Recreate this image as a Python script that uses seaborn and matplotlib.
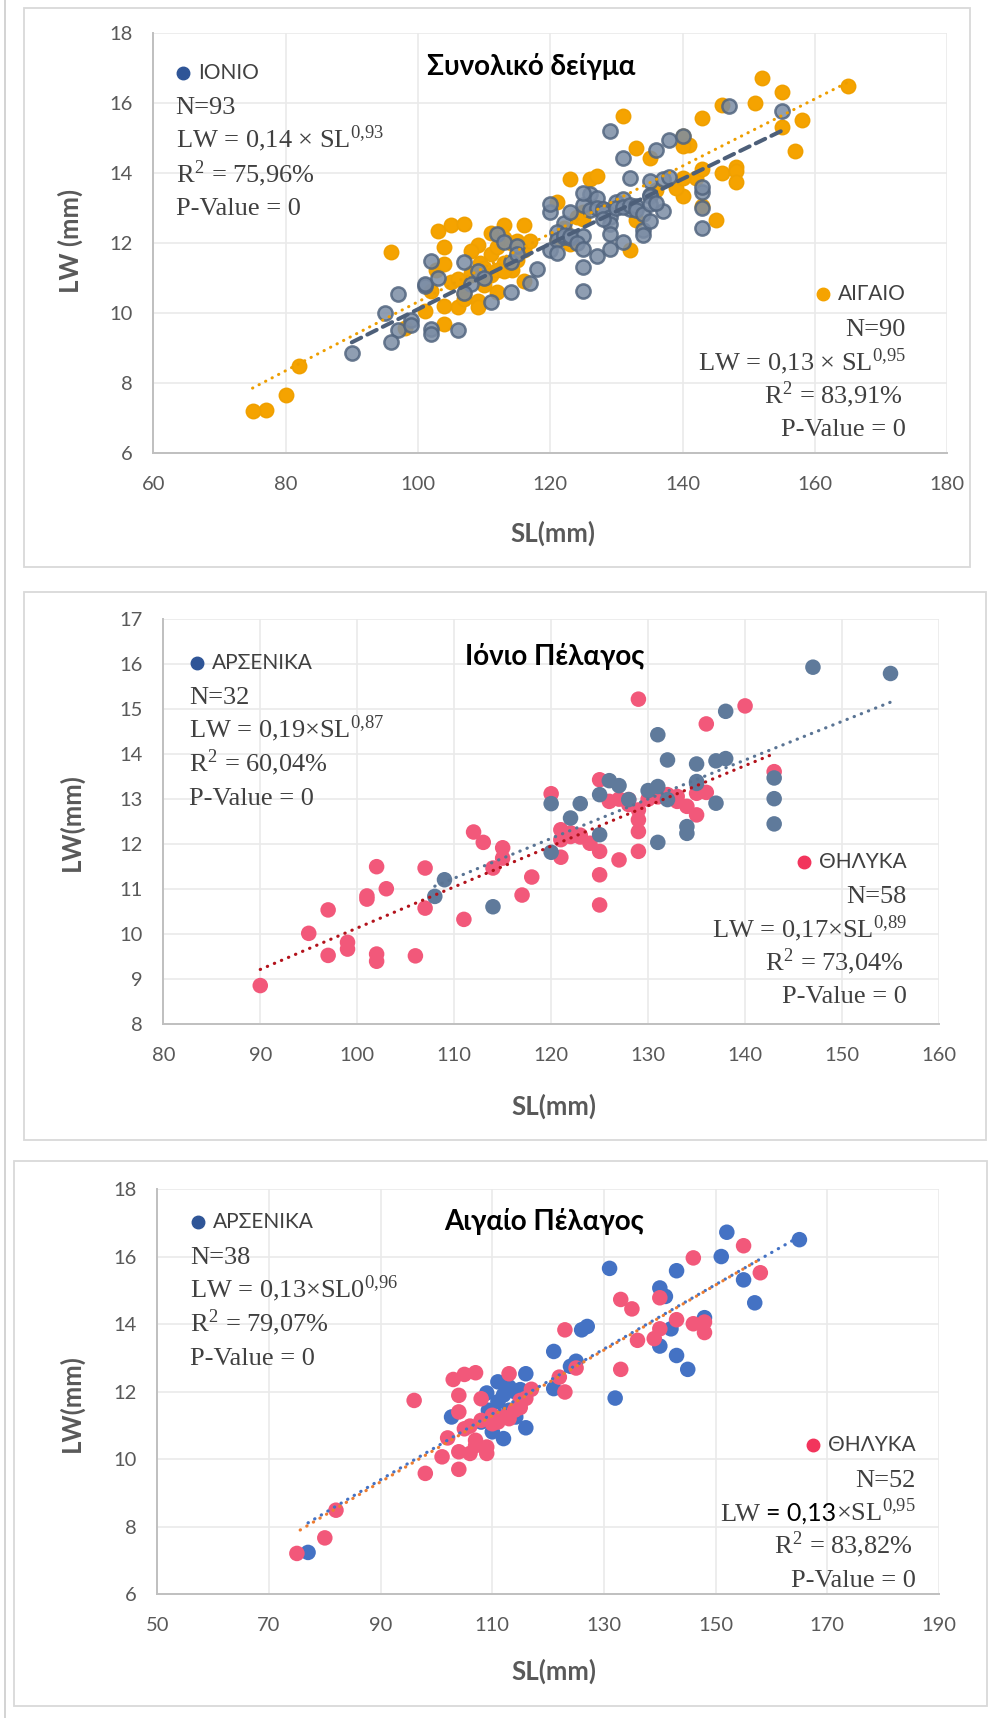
import numpy as np
import matplotlib
matplotlib.use("Agg")
import matplotlib.pyplot as plt
import seaborn as sns
from matplotlib.lines import Line2D
from matplotlib.patches import Rectangle

# ---------------- data ----------------
# Ionian Sea, males
ion_m_sl = [108, 109, 114, 120, 120, 122, 123, 125, 125, 126, 127, 128, 130, 131, 131, 131,
            132, 132, 134, 134, 135, 135, 135, 137, 137, 138, 138, 143, 143, 143, 147, 155]
ion_m_lw = [10.84, 11.21, 10.61, 12.90, 11.82, 12.58, 12.90, 13.10, 12.21, 13.41, 13.30, 12.99,
            13.19, 13.28, 14.43, 12.04, 13.87, 12.99, 12.39, 12.24, 13.78, 13.39, 13.35, 13.85,
            12.91, 13.90, 14.95, 13.47, 13.01, 12.45, 15.93, 15.79]
# Ionian Sea, females
ion_f_sl = [90, 95, 97, 97, 99, 99, 101, 101, 102, 102, 102, 103, 106, 107, 107, 111, 112, 113,
            114, 115, 115, 117, 118,
            120, 121, 121, 121, 122, 122, 123, 123, 124, 125, 125, 125, 125, 126, 127, 127, 128,
            128, 129, 129, 129, 129, 129, 130, 131, 132, 133, 133, 134, 135, 135, 136, 136, 140, 143]
ion_f_lw = [8.86, 10.02, 10.54, 9.53, 9.82, 9.67, 10.78, 10.85, 11.50, 9.56, 9.40, 11.01, 9.52,
            11.47, 10.58, 10.33, 12.27, 12.04, 11.47, 11.92, 11.69, 10.87, 11.27,
            13.12, 12.32, 12.10, 11.71, 12.17, 12.25, 12.16, 12.20, 12.02, 11.84, 13.43, 11.32,
            10.65, 12.95, 13.00, 11.65, 12.99, 12.88, 15.22, 12.76, 12.54, 12.28, 11.84, 13.00,
            13.05, 13.10, 13.06, 12.95, 12.84, 12.65, 13.13, 13.15, 14.67, 15.07, 13.61]
# Ionian Sea, specimens only in the total sample
ion_x_sl = [96, 110, 128]
ion_x_lw = [9.17, 11.00, 12.70]

# Aegean Sea, males
aeg_m_sl = [77, 102.7, 108, 109, 109.3, 110, 111, 111, 112, 112, 113, 113, 114, 114.2, 115, 116,
            116, 121, 121, 124, 125, 126, 127, 131, 132, 140, 140, 141, 142, 143, 143, 145, 148,
            151, 152, 155, 157, 165]
aeg_m_lw = [7.24, 11.25, 11.10, 11.96, 11.45, 10.81, 12.29, 11.70, 10.61, 11.90, 12.14, 11.45,
            12.00, 11.25, 12.06, 12.53, 10.93, 13.19, 12.09, 12.75, 12.90, 13.83, 13.93, 15.65,
            11.81, 15.07, 13.35, 14.82, 13.86, 15.58, 13.07, 12.66, 14.19, 16.00, 16.72, 15.31,
            14.63, 16.50]
# Aegean Sea, females
aeg_f_sl = [75, 80, 82, 96, 98, 101, 102, 103, 104, 104, 104, 104, 105, 105, 106, 106, 107, 107,
            107, 108, 108, 109, 109, 110, 110, 111, 112, 113, 113, 114, 115, 115, 116, 117, 122,
            123, 123, 125, 133, 133, 135, 136, 139, 140, 140, 143, 146, 146, 148, 148, 155, 158]
aeg_f_lw = [7.21, 7.67, 8.49, 11.74, 9.58, 10.07, 10.63, 12.36, 11.89, 11.40, 10.22, 9.70, 12.51,
            10.90, 10.98, 10.17, 12.56, 10.56, 10.40, 11.79, 11.15, 10.36, 10.17, 11.05, 11.30,
            11.10, 11.25, 12.53, 11.20, 11.45, 11.74, 11.53, 11.80, 12.07, 12.43, 13.83, 11.99,
            12.70, 14.73, 12.66, 14.45, 13.52, 13.57, 14.78, 13.86, 14.13, 15.96, 14.01, 14.06,
            13.75, 16.32, 15.52]

# combined samples for the first panel
ion_sl = ion_m_sl + ion_f_sl + ion_x_sl
ion_lw = ion_m_lw + ion_f_lw + ion_x_lw
aeg_sl = aeg_m_sl + aeg_f_sl
aeg_lw = aeg_m_lw + aeg_f_lw

# ---------------- setup ----------------
W, H = 995, 1718
sns.set_theme(style="white")
SANS = ['Lato', 'DejaVu Sans']
SERIF = ['Liberation Serif', 'DejaVu Serif']
plt.rcParams['font.family'] = SANS
plt.rcParams['mathtext.fontset'] = 'stix'

fig = plt.figure(figsize=(W / 100, H / 100), dpi=100)
fig.patch.set_facecolor('white')
renderer = fig.canvas.get_renderer()


def fx(x):
    return x / W


def fy(y):
    return 1 - y / H


# panel frames
def frame(l, t, r, b):
    fig.add_artist(Rectangle((fx(l), fy(b)), (r - l) / W, (b - t) / H, transform=fig.transFigure,
                             fill=False, ec='#D9D9D9', lw=1.3))


fig.add_artist(Line2D([fx(5), fx(5)], [0, 1], transform=fig.transFigure, color='#D0D0D0', lw=1.3))
frame(24, 8, 970, 567)
frame(24, 592, 986, 1140)
frame(14, 1161, 987, 1706)


def make_ax(l, t, r, b):
    return fig.add_axes([fx(l), fy(b), (r - l) / W, (b - t) / H])


def style_ax(ax, xlim, xticks, ylim, yticks, ylabel, xl_pos, yl_pos):
    ax.set_xlim(xlim)
    ax.set_ylim(ylim)
    ax.set_xticks(xticks)
    ax.set_yticks(yticks)
    ax.set_facecolor('white')
    ax.grid(True, color='#EAEAEA', lw=1.2)
    ax.set_axisbelow(True)
    for s in ['top', 'right']:
        ax.spines[s].set_visible(False)
    for s in ['left', 'bottom']:
        ax.spines[s].set_color('#BFBFBF')
        ax.spines[s].set_linewidth(1.4)
    ax.tick_params(axis='both', length=0, labelsize=14.5, labelcolor='#595959')
    ax.tick_params(axis='x', pad=16)
    ax.tick_params(axis='y', pad=15)
    ax.set_xlabel('SL(mm)', fontsize=18.5, fontweight='bold', color='#595959')
    ax.set_ylabel(ylabel, fontsize=18.5, fontweight='bold', color='#595959')
    ax.xaxis.label.set_va('center')
    ax.yaxis.label.set_va('center')
    ax.xaxis.set_label_coords(*xl_pos)
    ax.yaxis.set_label_coords(*yl_pos)


def fit_line(ax, sl, lw, color, ls, width, z=5):
    sl = np.asarray(sl, float)
    lw = np.asarray(lw, float)
    b, a = np.polyfit(np.log(sl), np.log(lw), 1)
    xs = np.linspace(sl.min(), sl.max(), 200)
    ax.plot(xs, np.exp(a) * xs ** b, color=color, ls=ls, lw=width, zorder=z,
            dash_capstyle='round', solid_capstyle='round')


def rich(segs, x, y, ha='left'):
    order = segs if ha == 'left' else segs[::-1]
    cur = x
    for txt, kw in order:
        t = fig.text(fx(cur), fy(y), txt, ha=ha, va='baseline', **kw)
        w = t.get_window_extent(renderer).width
        cur = cur + w if ha == 'left' else cur - w


SER = dict(family=SERIF, size=19, color='#404040')
LAB = dict(family=SANS, size=15, color='#404040')


def legend_item(my, color, label, ha, tx, mx=None):
    t = fig.text(fx(tx), fy(my), label, ha=ha, va='center', **LAB)
    if mx is None:
        w = t.get_window_extent(renderer).width
        mx = tx - w - 15
    fig.add_artist(Line2D([fx(mx)], [fy(my)], transform=fig.transFigure, marker='o', ms=9,
                          color=color, ls='none'))


def stats_block(x, ys, n, coef, expo, r2, ha, r2_shift=0, mixed=False, sl_txt='SL'):
    rich([('N=%s' % n, SER)], x, ys[0], ha)
    sup = r'$^{\mathregular{%s}}$' % expo.replace(',', '{,}')
    if mixed:
        rich([('LW ', SER), ('= %s' % coef, dict(family=SANS, size=18, color='black')),
              ('×%s%s' % (sl_txt, sup), SER)], x, ys[1], ha)
    else:
        rich([('LW = %s%s' % (coef, sl_txt) + sup, SER)], x, ys[1], ha)
    rich([(r'R$^{\mathregular{2}}$ = %s' % r2, SER)], x - r2_shift, ys[2], ha)
    rich([('P-Value = 0', SER)], x, ys[3], ha)


def title(x, y, txt):
    fig.text(fx(x), fy(y), txt, ha='center', va='center', family=SANS, size=20,
             fontweight='bold', color='black')


DOT = (0, (0.1, 2.3))

# ---------------- panel 1: total sample ----------------
ax1 = make_ax(153.3, 33.3, 947.3, 453.3)
sns.scatterplot(x=aeg_sl, y=aeg_lw, ax=ax1, s=105, color='#F5A300', edgecolor='#F0A000',
                linewidth=1.2, legend=False, zorder=3)
sns.scatterplot(x=ion_sl, y=ion_lw, ax=ax1, s=105, color='#7C8DA5', edgecolor='#52657F',
                linewidth=1.8, alpha=0.85, legend=False, zorder=3)
fit_line(ax1, ion_sl, ion_lw, '#4D5F79', (0, (2.6, 1.7)), 2.9)
fit_line(ax1, aeg_sl, aeg_lw, '#EE9E00', DOT, 2.2)
style_ax(ax1, (60, 180), range(60, 181, 20), (6, 18), range(6, 19, 2), 'LW (mm)',
         (0.503, -0.19), (-0.104, 0.505))
title(531, 66.7, 'Συνολικό δείγμα')
legend_item(73.3, '#2F5597', 'ΙΟΝΙΟ', 'left', 198.3, mx=183.3)
stats_block(175.7, [114, 147.7, 182.3, 215], '93', '0,14 × ', '0,93', '75,96%', 'left')
legend_item(294.3, '#F5A300', 'ΑΙΓΑΙΟ', 'right', 905.7)
stats_block(905.7, [336, 370, 403.3, 435.7], '90', '0,13 × ', '0,95', '83,91%', 'right', r2_shift=2.7)

# ---------------- panel 2: Ionian Sea ----------------
ax2 = make_ax(163.3, 619, 939, 1024.3)
sns.scatterplot(x=ion_f_sl, y=ion_f_lw, ax=ax2, s=125, color='#F2587A', edgecolor='none',
                legend=False, zorder=3)
sns.scatterplot(x=ion_m_sl, y=ion_m_lw, ax=ax2, s=125, color='#5F7A9B', edgecolor='none',
                legend=False, zorder=3)
fit_line(ax2, ion_m_sl, ion_m_lw, '#5A7494', DOT, 2.3)
fit_line(ax2, ion_f_sl, ion_f_lw, '#B3121B', DOT, 2.3)
style_ax(ax2, (80, 160), range(80, 161, 10), (8, 17), range(8, 18, 1), 'LW(mm)',
         (0.503, -0.2036), (-0.1187, 0.5))
title(555, 656.7, 'Ιόνιο Πέλαγος')
legend_item(663.3, '#2F5597', 'ΑΡΣΕΝΙΚΑ', 'left', 211.7, mx=196.7)
stats_block(189.3, [704, 737.3, 771, 805], '32', '0,19×', '0,87', '60,04%', 'left')
legend_item(862.3, '#F2345C', 'ΘΗΛΥΚΑ', 'right', 906.7)
stats_block(906.7, [902.7, 937.3, 970.7, 1003.3], '58', '0,17×', '0,89', '73,04%', 'right',
            r2_shift=2.7)

# ---------------- panel 3: Aegean Sea ----------------
ax3 = make_ax(157.3, 1189, 939, 1594.3)
sns.scatterplot(x=aeg_m_sl, y=aeg_m_lw, ax=ax3, s=125, color='#4472C4', edgecolor='none',
                legend=False, zorder=3)
sns.scatterplot(x=aeg_f_sl, y=aeg_f_lw, ax=ax3, s=125, color='#F2587A', edgecolor='none',
                legend=False, zorder=3)
fit_line(ax3, aeg_m_sl, aeg_m_lw, '#4472C4', DOT, 2.3)
fit_line(ax3, aeg_f_sl, aeg_f_lw, '#ED7D31', (1.2, (0.1, 2.3)), 2.3)
style_ax(ax3, (50, 190), range(50, 191, 20), (6, 18), range(6, 19, 2), 'LW(mm)',
         (0.507, -0.189), (-0.110, 0.473))
title(544, 1221.7, 'Αιγαίο Πέλαγος')
legend_item(1222.3, '#2F5597', 'ΑΡΣΕΝΙΚΑ', 'left', 212.7, mx=198.3)
stats_block(190, [1264.3, 1297.3, 1331.7, 1365], '38', '0,13×', '0,96', '79,07%', 'left',
            sl_txt='SL0')
legend_item(1445.3, '#F2345C', 'ΘΗΛΥΚΑ', 'right', 915.7)
stats_block(915.7, [1486.7, 1520.7, 1553.3, 1586.7], '52', '0,13', '0,95', '83,82%', 'right',
            r2_shift=2.4, mixed=True)

fig.savefig('out.png', dpi=100, facecolor='white')
